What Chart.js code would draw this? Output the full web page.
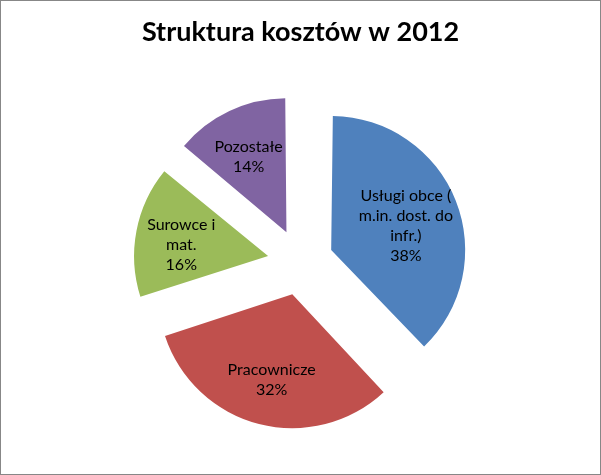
<!DOCTYPE html>
<html>
<head>
<meta charset="utf-8">
<script src="https://cdn.jsdelivr.net/npm/chart.js@4"></script>
<style>
    body { margin: 0; background: #fff; }
    .frame { width: 601px; height: 475px; box-sizing: border-box; border: 1px solid #878787; }
</style>
</head>
<body>
<div class="frame"><canvas id="pie-chart" width="599" height="473"></canvas></div>
<script>
// Dane
var categories = [['Usługi obce (', 'm.in. dost. do', 'infr.)'], ['Pracownicze'], ['Surowce i', 'mat.'], ['Pozostałe']];
var values = [38, 32, 16, 14];
var colors = ['#4f81bd', '#c0504d', '#9bbb59', '#8064a2'];

var pieRadius = 134;
var explode = 132; // chart.js moves the slice by offset / 4

// keep every slice the same radius (chart.js grows small slices when offset is set)
var evenRadius = {
    id: 'evenRadius',
    beforeDatasetsDraw: function (chart) {
        chart.getDatasetMeta(0).data.forEach(function (arc) {
            var fix = 1 - Math.sin(Math.min(Math.PI, arc.circumference));
            arc.outerRadius = pieRadius - (explode / 4) * fix;
        });
    },
};

// labels inside the slices, between the centroid and 0.68 of the radius
var sliceLabels = {
    id: 'sliceLabels',
    afterDatasetsDraw: function (chart) {
        var ctx = chart.ctx;
        var total = values.reduce(function (a, b) { return a + b; }, 0);
        ctx.save();
        ctx.font = '16px Lato';
        ctx.fillStyle = '#000';
        ctx.textAlign = 'center';
        ctx.textBaseline = 'middle';
        chart.getDatasetMeta(0).data.forEach(function (arc, i) {
            var mid = (arc.startAngle + arc.endAngle) / 2;
            var half = arc.circumference / 2;
            var centroid = 2 * pieRadius * Math.sin(half) / (3 * half);
            var dist = explode / 4 + (centroid + pieRadius * 0.68) / 2;
            var x = arc.x + Math.cos(mid) * dist;
            var y = arc.y + Math.sin(mid) * dist;
            var lines = categories[i].concat([Math.round(values[i] / total * 100) + '%']);
            var lh = 20;
            var top = y - (lines.length - 1) * lh / 2 + 5;
            lines.forEach(function (t, k) {
                ctx.fillText(t, x, top + k * lh);
            });
        });
        ctx.restore();
    },
};

var ctx = document.getElementById('pie-chart').getContext('2d');
var pieChart = new Chart(ctx, {
    type: 'pie',
    data: {
        labels: categories.map(function (c) { return c.join(' '); }),
        datasets: [
            {
                data: values,
                backgroundColor: colors,
                borderWidth: 0,
                offset: explode,
            },
        ],
    },
    options: {
        responsive: false,
        animation: false,
        radius: pieRadius,
        layout: { padding: { top: 0, bottom: 8, left: 0, right: 0 } },
        plugins: {
            legend: { display: false },
            tooltip: { enabled: false },
            title: {
                display: true,
                text: 'Struktura kosztów w 2012',
                color: '#000',
                font: { family: 'Lato', size: 27, weight: 'bold' },
                padding: { top: 15, bottom: 10 },
            },
        },
    },
    plugins: [evenRadius, sliceLabels],
});
</script>
</body>
</html>
